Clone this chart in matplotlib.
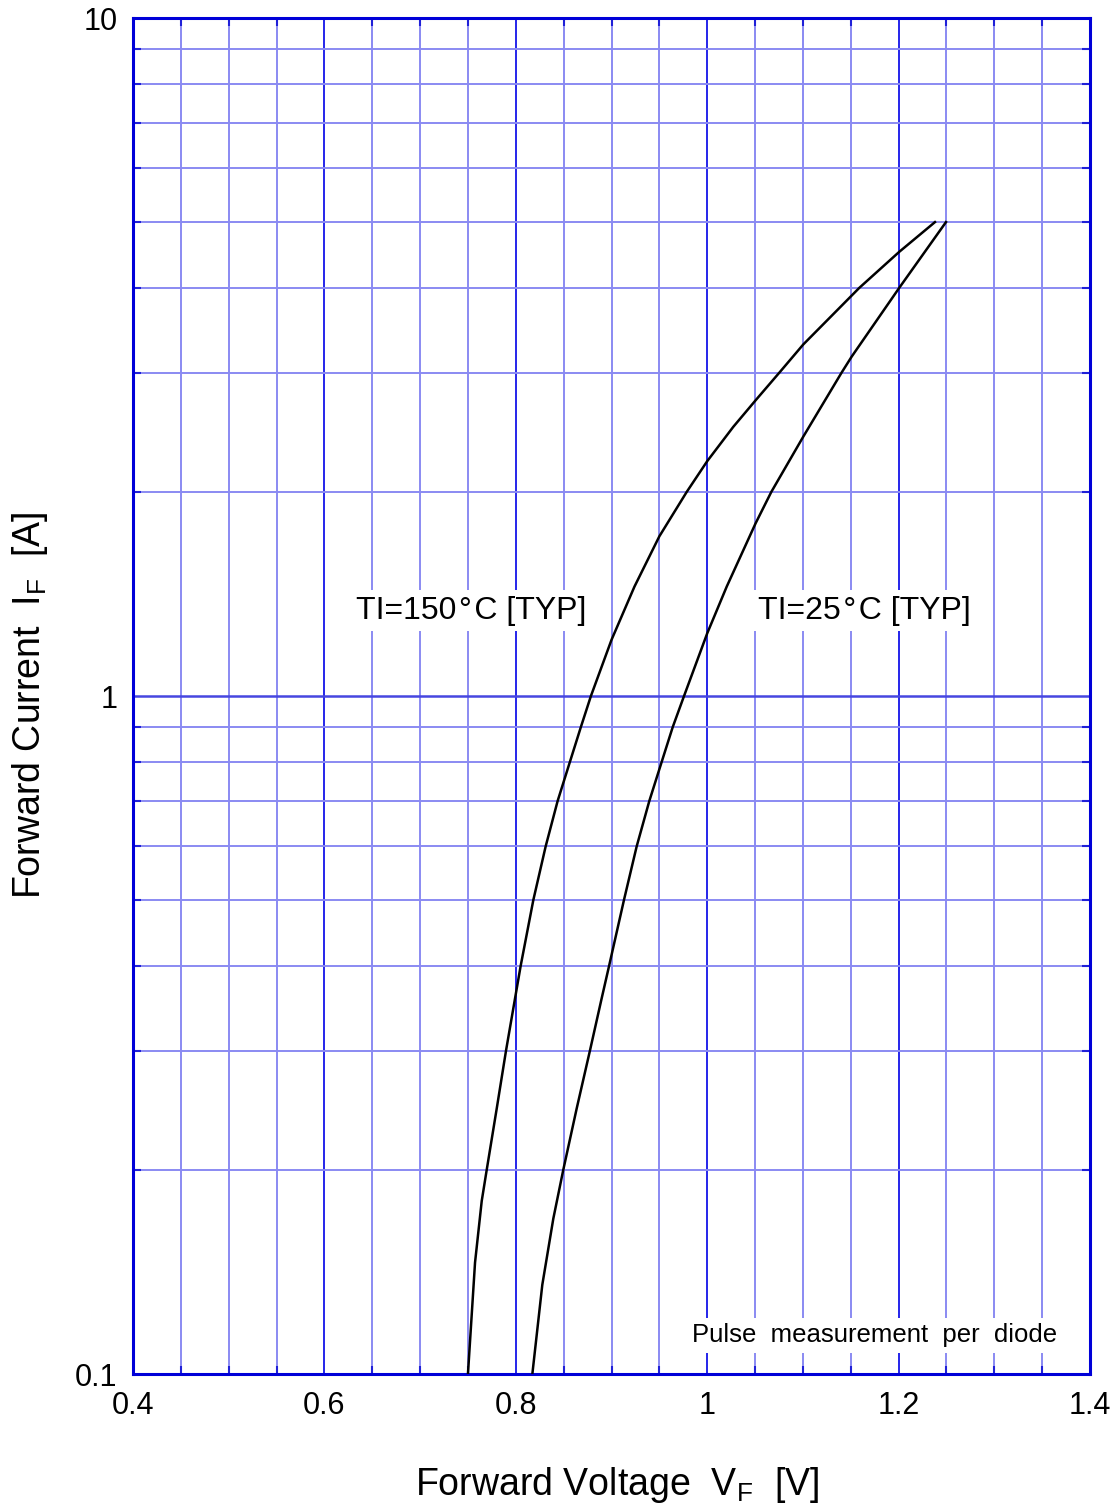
import numpy as np
import matplotlib
matplotlib.use("Agg")
import matplotlib.pyplot as plt
from matplotlib.ticker import FixedLocator, NullFormatter

plt.rcParams['font.family'] = ['Liberation Sans', 'DejaVu Sans']
plt.rcParams['mathtext.fontset'] = 'custom'
plt.rcParams['mathtext.rm'] = 'Liberation Sans'

# Forward characteristic, junction at 150 degC (typical)
vf_150 = [0.750, 0.7574, 0.7644, 0.7696, 0.780, 0.7898, 0.800, 0.8051, 0.8183,
          0.8312, 0.8437, 0.8566, 0.868, 0.8785, 0.900, 0.924, 0.950,
          0.9786, 1.000, 1.0273, 1.0506, 1.0755, 1.1004, 1.159, 1.2007, 1.238]
if_150 = [0.100, 0.146, 0.180, 0.200, 0.246, 0.300, 0.3635, 0.400, 0.500,
          0.600, 0.700, 0.800, 0.900, 1.000, 1.21, 1.45, 1.72,
          2.00, 2.22, 2.495, 2.73, 3.00, 3.30, 4.00, 4.52, 5.00]

# Forward characteristic, junction at 25 degC (typical)
vf_25 = [0.8173, 0.8277, 0.8392, 0.8496, 0.8636, 0.8775, 0.8897, 0.8975, 0.913,
         0.9263, 0.9395, 0.9525, 0.964, 0.9758, 1.000, 1.0204, 1.0506,
         1.067, 1.1004, 1.1405, 1.151, 1.2007, 1.2495]
if_25 = [0.100, 0.1354, 0.1695, 0.200, 0.2463, 0.300, 0.358, 0.400, 0.500,
         0.600, 0.700, 0.800, 0.900, 1.000, 1.237, 1.45, 1.798,
         2.00, 2.413, 3.00, 3.167, 4.00, 5.00]

x_ticks = [0.4, 0.6, 0.8, 1.0, 1.2, 1.4]
x_tick_labels = ["0.4", "0.6", "0.8", "1", "1.2", "1.4"]
y_ticks = [0.1, 1, 10]
y_tick_labels = ["0.1", "1", "10"]

label_150 = "TI=150\u200a°\u200aC [TYP]"
label_25 = "TI=25\u200a°\u200aC [TYP]"
note = "Pulse  measurement  per  diode"

fig = plt.figure(figsize=(11.2, 15.1), dpi=100)
ax = fig.add_axes([133/1120, 1-1374/1510, (1090-133)/1120, (1374-18)/1510])

ax.set_yscale('log')
ax.set_xlim(0.4, 1.4)
ax.set_ylim(0.1, 10)

ax.xaxis.set_major_locator(FixedLocator(x_ticks))
ax.set_xticklabels(x_tick_labels)
ax.xaxis.set_minor_locator(FixedLocator(np.arange(0.45, 1.40, 0.05)))
ax.yaxis.set_major_locator(FixedLocator(y_ticks))
ax.set_yticklabels(y_tick_labels)
minor_y = [m * d for d in (0.1, 1) for m in range(2, 10)]
ax.yaxis.set_minor_locator(FixedLocator(minor_y))
ax.yaxis.set_minor_formatter(NullFormatter())

light = '#8a8af2'
dark = '#0000e6'
mid = '#4646e0'
ax.grid(which='minor', axis='both', color=light, lw=1.4)
ax.grid(which='major', axis='x', color=dark, lw=1.2)
ax.grid(which='major', axis='y', color=mid, lw=1.8)
ax.set_axisbelow(True)

for s in ax.spines.values():
    s.set_color('#0000d8')
    s.set_linewidth(2.2)

ax.tick_params(which='both', direction='in', top=True, right=True,
               color='#2020d8', width=1.5)
ax.tick_params(which='major', length=0)
ax.tick_params(which='minor', length=6)
ax.tick_params(axis='x', which='major', labelsize=22, pad=12)
ax.tick_params(axis='y', which='major', labelsize=22, pad=11)

ax.plot(vf_150, if_150, color='black', lw=1.8, zorder=3, solid_joinstyle='round')
ax.plot(vf_25, if_25, color='black', lw=1.8, zorder=3, solid_joinstyle='round')

box = dict(facecolor='white', edgecolor='none', pad=4)
ax.text(0.753, 1.335, label_150, fontsize=23, ha='center', va='center', bbox=box, zorder=4)
ax.text(1.164, 1.335, label_25, fontsize=23, ha='center', va='center', bbox=box, zorder=4)
ax.text(1.175, 0.114, note, fontsize=18.5, ha='center', va='center', bbox=box, zorder=4)

fig.text(617/1120, 1-1485/1510, r"Forward Voltage  V$_\mathregular{F}$  [V]",
         fontsize=27, ha='center', va='center')
fig.text(30/1120, 1-705/1510, r"Forward Current  I$_\mathregular{F}$  [A]",
         fontsize=27, ha='center', va='center', rotation=90)

fig.savefig('out.png', dpi=100, facecolor='white')
